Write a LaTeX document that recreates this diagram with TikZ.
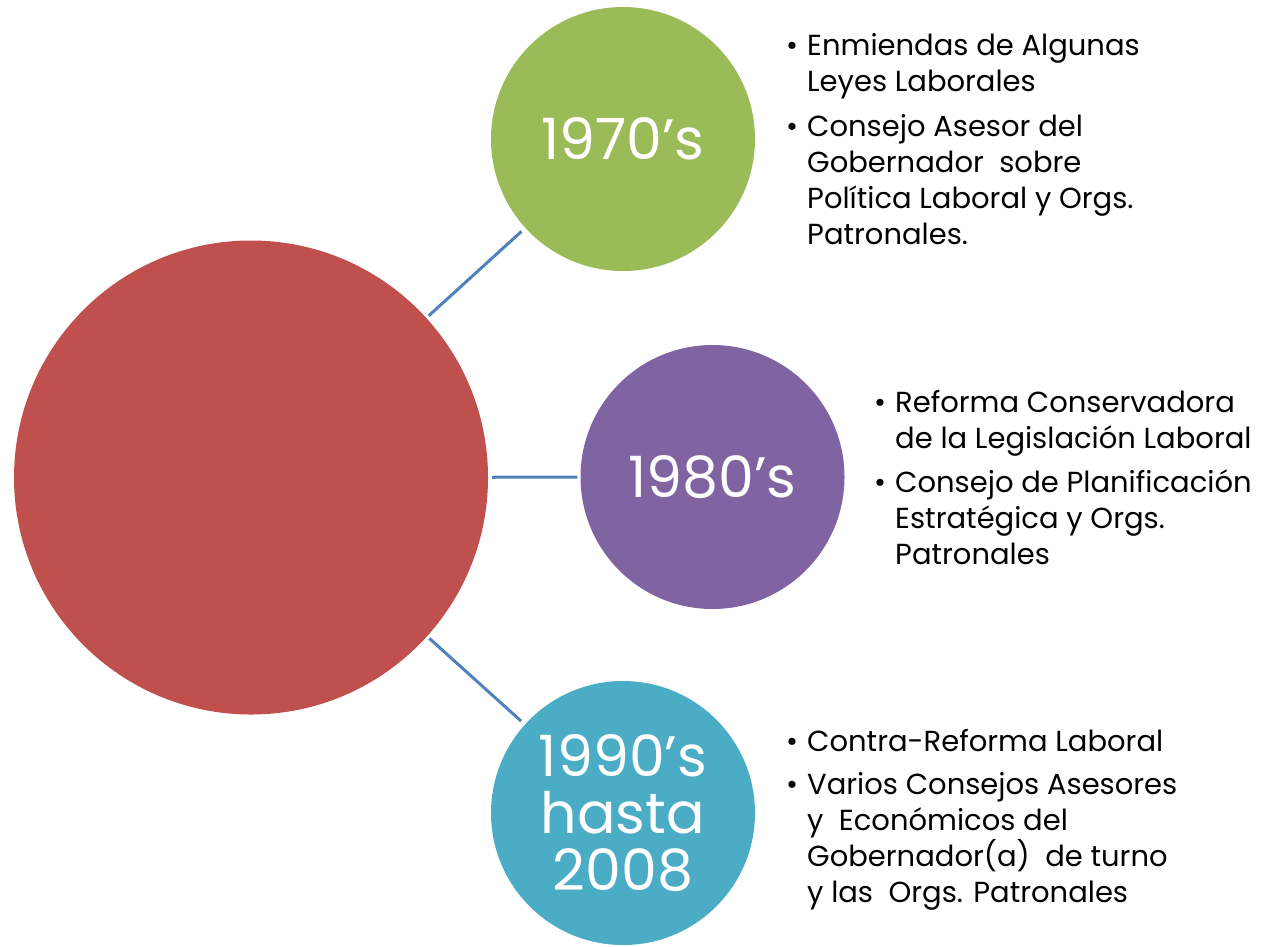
\documentclass[tikz,border=0pt]{standalone}
\usepackage{fontspec}
\setmainfont{Poppins}
\definecolor{cred}{HTML}{C0504D}
\definecolor{cgreen}{HTML}{9BBB59}
\definecolor{cpurple}{HTML}{8064A2}
\definecolor{cblue}{HTML}{4BACC6}
\definecolor{cline}{HTML}{4F81BD}
\newcommand{\bl}{\makebox[21pt][l]{\textbullet}}
\newcommand{\ct}{\hspace*{21pt}}
\begin{document}
\begin{tikzpicture}[x=1pt,y=-1pt,
  bigc/.style={circle,fill=cred,draw=none,minimum size=474pt,inner sep=0pt},
  yearc/.style={circle,draw=none,minimum size=264pt,inner sep=0pt,text=white,align=center,
    font=\fontsize{57}{57}\selectfont},
  linec/.style={draw=cline,line width=3pt},
  bul/.style={anchor=north west,inner sep=0pt,align=left,text=black,
    font=\fontsize{29}{36}\selectfont}]
\useasboundingbox (0,0) rectangle (1276,946);
\node[bigc] (red) at (251,477.5) {};
\node[yearc,fill=cgreen] (g) at (623,139) {1970’s};
\node[yearc,fill=cpurple] (p) at (712.5,477) {1980’s};
\node[yearc,fill=cblue] (b) at (623,813) {1990’s\\hasta\\2008};
\draw[linec,shorten <=3pt,shorten >=5pt] (red) -- (g);
\draw[linec,shorten <=4pt,shorten >=3pt] (red) -- (p);
\draw[linec,shorten <=3pt,shorten >=5pt] (red) -- (b);
\node[bul] (t1) at (786,33) {\bl Enmiendas de Algunas\\ \ct Leyes Laborales\\[9pt]
  \bl Consejo Asesor del\\ \ct Gobernador\ \ sobre\\ \ct Política Laboral y Orgs.\\ \ct Patronales.};
\node[bul] (t2) at (874,390) {\bl Reforma Conservadora\\ \ct de la Legislación Laboral\\[8pt]
  \bl Consejo de Planificación\\ \ct Estratégica y Orgs.\\ \ct Patronales};
\node[bul] (t3) at (786,729) {\bl Contra-Reforma Laboral\\[7pt]
  \bl Varios Consejos Asesores\\ \ct y\ \ Económicos del\\ \ct Gobernador(a)\ \ de turno\\ \ct y las\ \ Orgs. Patronales};
\end{tikzpicture}
\end{document}
